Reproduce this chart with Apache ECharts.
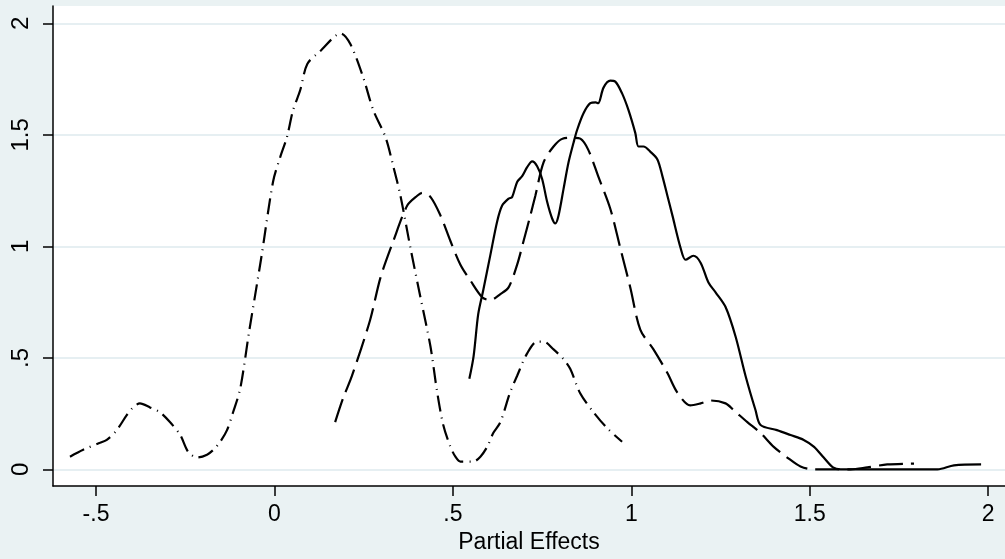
<!DOCTYPE html>
<html>
<head>
<meta charset="utf-8">
<script src="https://cdn.jsdelivr.net/npm/echarts@6/dist/echarts.min.js"></script>
<style>
  html, body { margin: 0; padding: 0; background: #eaf2f3; }
  #chart { width: 1005px; height: 559px; }
</style>
</head>
<body>
<div id="chart"></div>
<script>
// tick values
var xTicks = [-0.5, 0, 0.5, 1, 1.5, 2];
var yTicks = [0, 0.5, 1, 1.5, 2];

// solid line
var solidX = [0.546, 0.558, 0.571, 0.585, 0.605, 0.624, 0.638, 0.656, 0.666, 0.68, 0.694, 0.708, 0.722, 0.736, 0.75, 0.764, 0.778, 0.787, 0.796, 0.81, 0.824, 0.838, 0.848, 0.866, 0.885, 0.9, 0.907, 0.922, 0.941, 0.955, 0.974, 0.992, 1.011, 1.02, 1.034, 1.053, 1.073, 1.087, 1.101, 1.115, 1.138, 1.152, 1.174, 1.194, 1.216, 1.236, 1.264, 1.292, 1.32, 1.348, 1.362, 1.408, 1.446, 1.483, 1.512, 1.539, 1.565, 1.586, 1.7, 1.858, 1.904, 1.98];
var solidY = [0.406, 0.508, 0.697, 0.803, 0.962, 1.112, 1.183, 1.214, 1.222, 1.289, 1.315, 1.355, 1.381, 1.359, 1.302, 1.2, 1.125, 1.103, 1.139, 1.258, 1.377, 1.465, 1.522, 1.597, 1.642, 1.646, 1.642, 1.712, 1.743, 1.739, 1.686, 1.611, 1.509, 1.448, 1.448, 1.425, 1.39, 1.315, 1.227, 1.139, 0.993, 0.94, 0.958, 0.927, 0.838, 0.794, 0.728, 0.596, 0.419, 0.265, 0.199, 0.176, 0.154, 0.132, 0.101, 0.053, 0.009, 0, 0, 0, 0.018, 0.022];

// long dash line
var dashX = [0.17, 0.192, 0.217, 0.268, 0.297, 0.333, 0.372, 0.4, 0.414, 0.437, 0.465, 0.493, 0.521, 0.549, 0.582, 0.605, 0.633, 0.656, 0.68, 0.698, 0.717, 0.731, 0.754, 0.782, 0.807, 0.838, 0.857, 0.879, 0.907, 0.941, 0.969, 0.997, 1.025, 1.062, 1.101, 1.129, 1.165, 1.194, 1.222, 1.264, 1.287, 1.325, 1.362, 1.399, 1.437, 1.474, 1.512, 1.614, 1.661, 1.717, 1.792];
var dashY = [0.212, 0.318, 0.419, 0.67, 0.86, 1.024, 1.183, 1.227, 1.24, 1.222, 1.139, 1.024, 0.918, 0.847, 0.772, 0.759, 0.786, 0.816, 0.918, 1.024, 1.139, 1.227, 1.377, 1.448, 1.483, 1.487, 1.483, 1.434, 1.315, 1.169, 0.993, 0.816, 0.627, 0.538, 0.432, 0.344, 0.287, 0.296, 0.309, 0.296, 0.265, 0.212, 0.163, 0.101, 0.053, 0.013, 0, 0, 0.009, 0.022, 0.026];

// dash-dot line
var dotX = [-0.573, -0.536, -0.489, -0.47, -0.442, -0.414, -0.396, -0.377, -0.349, -0.321, -0.293, -0.264, -0.242, -0.217, -0.189, -0.171, -0.152, -0.133, -0.116, -0.096, -0.071, -0.037, -0.004, 0.016, 0.035, 0.052, 0.072, 0.092, 0.128, 0.186, 0.213, 0.249, 0.277, 0.311, 0.333, 0.353, 0.381, 0.409, 0.437, 0.456, 0.473, 0.493, 0.507, 0.521, 0.557, 0.577, 0.596, 0.613, 0.633, 0.66, 0.68, 0.708, 0.736, 0.754, 0.782, 0.81, 0.829, 0.857, 0.894, 0.932, 0.974];
var dotY = [0.057, 0.088, 0.119, 0.132, 0.176, 0.243, 0.278, 0.296, 0.278, 0.256, 0.212, 0.154, 0.079, 0.053, 0.066, 0.088, 0.124, 0.176, 0.256, 0.362, 0.618, 0.949, 1.29, 1.4, 1.49, 1.61, 1.7, 1.818, 1.875, 1.955, 1.906, 1.756, 1.61, 1.49, 1.359, 1.227, 0.993, 0.772, 0.552, 0.345, 0.199, 0.101, 0.057, 0.035, 0.035, 0.057, 0.101, 0.163, 0.212, 0.344, 0.42, 0.52, 0.573, 0.573, 0.538, 0.494, 0.45, 0.34, 0.256, 0.185, 0.124];

function zip(xs, ys) {
  return xs.map(function (x, i) { return [x, ys[i]]; });
}

// stata style: .5 instead of 0.5
function fmt(v) {
  var s = String(v);
  return s.replace(/^(-?)0\./, '$1.');
}

var font = '"Liberation Sans", Arial, sans-serif';

var myChart = echarts.init(document.getElementById('chart'));

var option = {
  backgroundColor: '#eaf2f3',
  animation: false,
  grid: {
    left: 53,
    right: 0,
    top: 6,
    bottom: 67,
    show: true,
    backgroundColor: '#ffffff',
    borderWidth: 0
  },
  xAxis: {
    type: 'value',
    min: -0.6206,
    max: 2.047,
    name: 'Partial Effects',
    nameLocation: 'middle',
    nameGap: 43,
    nameTextStyle: { fontFamily: font, fontSize: 23, color: '#000' },
    axisLine: { show: true, onZero: false, lineStyle: { color: '#000', width: 1.5 } },
    axisTick: { show: true, length: 10, customValues: xTicks, lineStyle: { color: '#000', width: 1.5 } },
    axisLabel: {
      customValues: xTicks,
      margin: 17,
      fontFamily: font,
      fontSize: 23,
      color: '#000',
      formatter: fmt
    },
    splitLine: { show: false }
  },
  yAxis: {
    type: 'value',
    min: -0.075,
    max: 2.078,
    axisLine: { show: true, onZero: false, lineStyle: { color: '#000', width: 1.5 } },
    axisTick: { show: true, length: 10, customValues: yTicks, lineStyle: { color: '#000', width: 1.5 } },
    axisLabel: {
      customValues: yTicks,
      rotate: 90,
      margin: 20,
      fontFamily: font,
      fontSize: 24,
      color: '#000',
      formatter: fmt
    },
    splitLine: { show: true, lineStyle: { color: '#e6eff2', width: 2 } }
  },
  series: [
    {
      type: 'line',
      data: zip(solidX, solidY),
      symbol: 'none',
      smooth: 0.3,
      lineStyle: { color: '#000', width: 2.2 }
    },
    {
      type: 'line',
      data: zip(dashX, dashY),
      symbol: 'none',
      smooth: 0.3,
      lineStyle: { color: '#000', width: 2.2, type: [24, 8] }
    },
    {
      type: 'line',
      data: zip(dotX, dotY),
      symbol: 'none',
      smooth: 0.3,
      lineStyle: { color: '#000', width: 2.2, type: [16, 6, 1, 6] }
    }
  ]
};

myChart.setOption(option);
</script>
</body>
</html>
